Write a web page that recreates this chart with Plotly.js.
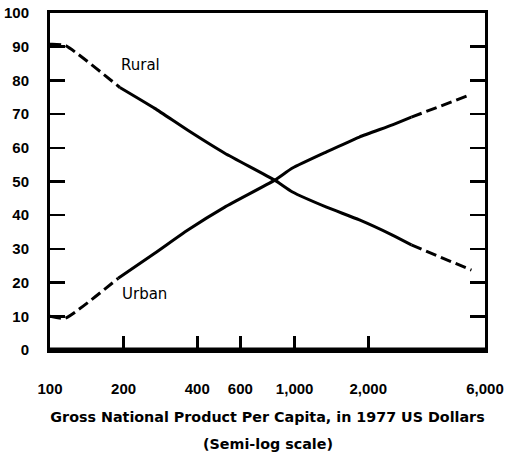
<!DOCTYPE html>
<html>
<head>
<meta charset="utf-8">
<script src="https://cdn.plot.ly/plotly-3.0.1.min.js"></script>
<style>html,body{margin:0;padding:0;background:#fff;}#chart{width:506px;height:456px;}</style>
</head>
<body>
<div id="chart"></div>
<script>
// GNP per capita (1977 US$)
const ruralGnp = [100, 115, 193, 268, 366, 518, 829, 980, 1350, 1840, 2510, 3000, 5280];
const ruralPct = [90.7, 90.4, 77.9, 71.7, 65.2, 58.4, 50.4, 46.9, 42.4, 38.6, 34.1, 31.2, 23.7];
const urbanGnp = [100, 115, 190, 268, 366, 518, 829, 980, 1350, 1840, 2510, 3000, 5080];
const urbanPct = [10.0, 9.4, 21.3, 28.7, 35.6, 42.4, 50.4, 54.0, 58.8, 63.2, 66.8, 69.1, 75.4];
// index range of the solid (observed) part of each curve
const solidStart = 2, solidEnd = 11;

const xTickVals = [100, 200, 400, 600, 1000, 2000, 6000];
const xTickText = ['100', '200', '400', '600', '1,000', '2,000', '6,000'];
const yTickVals = [0, 10, 20, 30, 40, 50, 60, 70, 80, 90, 100];

const FONT = 'Liberation Sans, Arial, sans-serif';
const WIDE = 'DejaVu Sans, Verdana, sans-serif';

function segs(name, xs, ys) {
  const parts = [
    [0, solidStart, 'dash'],
    [solidStart, solidEnd, 'solid'],
    [solidEnd, xs.length - 1, 'dash']
  ];
  return parts.map(([a, b, d]) => ({
    x: xs.slice(a, b + 1), y: ys.slice(a, b + 1),
    type: 'scatter', mode: 'lines', name: name, showlegend: false,
    hoverinfo: 'skip',
    line: {color: '#000', width: 3, dash: d === 'dash' ? '11px,5px' : 'solid', shape: 'spline', smoothing: 0.5}
  }));
}

const data = [].concat(segs('Rural', ruralGnp, ruralPct), segs('Urban', urbanGnp, urbanPct));

const layout = {
  width: 506, height: 456,
  margin: {l: 50, r: 21, t: 13, b: 106},
  paper_bgcolor: '#fff', plot_bgcolor: '#fff',
  font: {family: FONT, color: '#000'},
  showlegend: false,
  xaxis: {
    type: 'log', range: [2, Math.log10(6000)],
    tickvals: xTickVals, ticktext: xTickText,
    ticks: 'inside', ticklen: 14, tickwidth: 2.5, tickcolor: '#000',
    showline: true, linewidth: 3, linecolor: '#000', mirror: true,
    showgrid: false, zeroline: false,
    ticklabelstandoff: 23,
    tickfont: {family: FONT, size: 15, color: '#000', weight: 'bold'},
    title: {text: 'Gross National Product Per Capita, in 1977 US Dollars', standoff: 16,
            font: {family: WIDE, size: 14.3, color: '#000', weight: 'bold'}}
  },
  yaxis: {
    range: [0, 100], tickvals: yTickVals,
    ticks: 'inside', ticklen: 15, tickwidth: 2.5, tickcolor: '#000',
    showline: true, linewidth: 3, linecolor: '#000', mirror: 'ticks',
    showgrid: false, zeroline: false,
    ticklabelstandoff: 15,
    tickfont: {family: FONT, size: 15, color: '#000', weight: 'bold'}
  },
  shapes: [
    {type: 'line', xref: 'paper', yref: 'y', x0: 0, x1: 1, y0: 0, y1: 0,
     line: {color: '#000', width: 5}}
  ],
  annotations: [
    {text: 'Rural', xref: 'paper', yref: 'paper', x: 0.207, y: 0.846,
     xanchor: 'center', yanchor: 'middle', showarrow: false,
     font: {family: WIDE, size: 15, color: '#000'}},
    {text: 'Urban', xref: 'paper', yref: 'paper', x: 0.218, y: 0.166,
     xanchor: 'center', yanchor: 'middle', showarrow: false,
     font: {family: WIDE, size: 15, color: '#000'}},
    {text: '(Semi-log scale)', xref: 'paper', yref: 'paper', x: 0.5, y: -0.28,
     xanchor: 'center', yanchor: 'middle', showarrow: false,
     font: {family: WIDE, size: 14.3, color: '#000', weight: 'bold'}}
  ]
};

Plotly.newPlot('chart', data, layout, {staticPlot: true, displayModeBar: false});
</script>
</body>
</html>
